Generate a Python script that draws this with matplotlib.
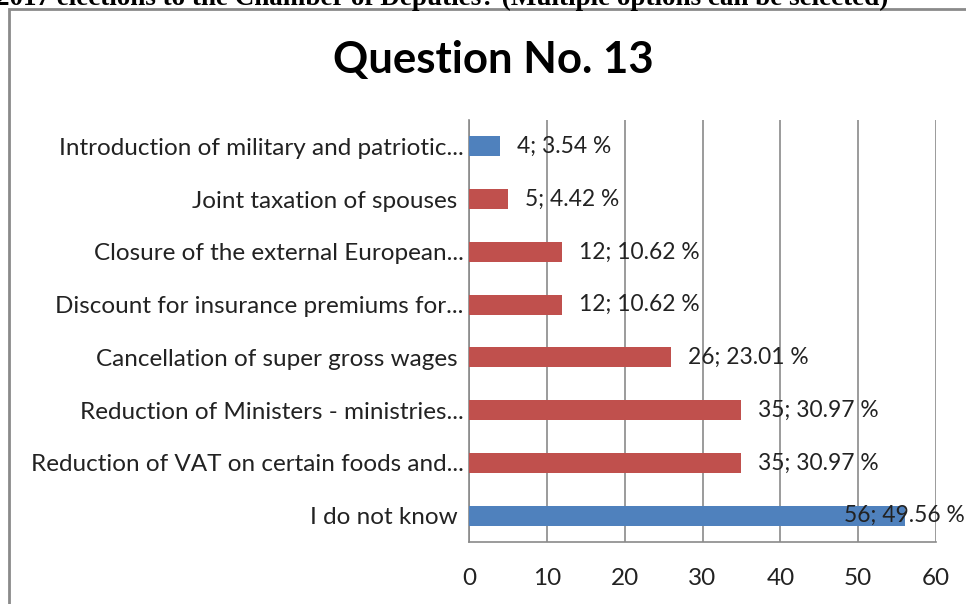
import matplotlib
matplotlib.use("Agg")
import matplotlib.pyplot as plt
import matplotlib.patches as mpatches

# Survey answers, listed bottom to top as they appear on the chart
categories = [
    "I do not know ",
    "Reduction of VAT on certain foods and...",
    "Reduction of Ministers - ministries...",
    "Cancellation of super gross wages ",
    "Discount for insurance premiums for...",
    "Closure of the external European...",
    "Joint taxation of spouses ",
    "Introduction of military and patriotic...",
]
counts = [56, 35, 35, 26, 12, 12, 5, 4]
percents = [49.56, 30.97, 30.97, 23.01, 10.62, 10.62, 4.42, 3.54]
bar_colors = ["#4F81BD", "#C0504D", "#C0504D", "#C0504D",
              "#C0504D", "#C0504D", "#C0504D", "#4F81BD"]
x_ticks = [0, 10, 20, 30, 40, 50, 60]

plt.rcParams["font.family"] = ["Lato", "DejaVu Sans"]
GRID = "#8a8a8a"
TEXT = "#222222"
FS = 17.5

fig = plt.figure(figsize=(9.66, 6.04), dpi=100)
ax = fig.add_axes([0.4855, 0.1026, 0.969 - 0.4855, 0.8013 - 0.1026])

# Heading cut off at the top of the page
fig.text(-0.004, 0.9915, "2017 elections to the Chamber of Deputies? (Multiple options can be selected)",
         family="Liberation Serif", fontweight="bold", fontsize=19.5, ha="left", va="baseline")

# Chart frame
fig.patches.append(mpatches.Rectangle((9 / 966, -0.1), 1.2, (604 - 9) / 604 + 0.1,
                                      transform=fig.transFigure, fill=False,
                                      edgecolor=GRID, linewidth=2))

ypos = range(len(categories))
ax.barh(ypos, counts, height=0.38, color=bar_colors, zorder=3)

for i, (c, p) in enumerate(zip(counts, percents)):
    label = f"{c}; {p:.2f} %"
    # the longest bar gets its label pulled back inside the plot
    dx = -44 if c > 50 else 12
    ax.annotate(label, (c, i), xytext=(dx, 0), textcoords="offset points",
                ha="left", va="center", fontsize=16.4, color=TEXT, zorder=4)

ax.set_xlim(0, 60)
ax.set_ylim(-0.5, len(categories) - 0.5)
ax.set_xticks(x_ticks)
ax.set_yticks(list(ypos))
ax.set_yticklabels(categories)
ax.tick_params(axis="both", length=0, labelsize=FS, colors=TEXT)
ax.tick_params(axis="x", pad=19)
ax.tick_params(axis="y", pad=4)
ax.xaxis.grid(True, color=GRID, linewidth=1.2, zorder=0)
for side in ["top", "right"]:
    ax.spines[side].set_visible(False)
for side in ["left", "bottom"]:
    ax.spines[side].set_color(GRID)
    ax.spines[side].set_linewidth(1.2)

fig.text(0.511, 0.9, "Question No. 13", fontsize=31.5, fontweight="bold",
         ha="center", va="center")

fig.savefig("out.png", dpi=100)
